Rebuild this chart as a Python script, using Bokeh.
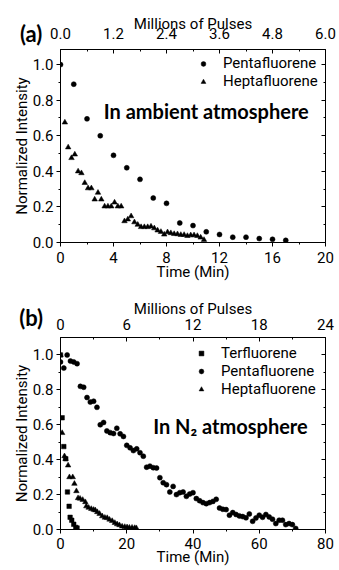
from bokeh.plotting import figure
from bokeh.models import (Range1d, LinearAxis, FixedTicker, Legend, LegendItem,
                          CustomJSTickFormatter, Label)
from bokeh.core.properties import value
from bokeh.layouts import column
from bokeh.embed import file_html
from bokeh.resources import INLINE

# ---------------- Data: panel (a) ambient atmosphere ----------------
a_penta_t = [0, 1, 2, 3, 4, 5, 6, 7, 8, 9, 10, 11, 12, 13, 14, 15, 16, 17]
a_penta_i = [1.0, 0.89, 0.695, 0.60, 0.49, 0.42, 0.355, 0.25, 0.22, 0.11, 0.095, 0.06,
             0.045, 0.03, 0.03, 0.022, 0.018, 0.012]
a_hepta_t = [0.33, 0.58, 0.83, 1.08, 1.33, 1.58, 1.83, 2.08, 2.33, 2.58, 2.83, 3.08, 3.33,
             3.58, 3.83, 4.08, 4.33, 4.58, 4.83, 5.08, 5.33, 5.58, 5.83, 6.08, 6.33, 6.58,
             6.83, 7.08, 7.33, 7.58, 7.83, 8.08, 8.33, 8.58, 8.83, 9.08, 9.33, 9.58, 9.83,
             10.08, 10.33, 10.58, 10.83]
a_hepta_i = [0.675, 0.535, 0.475, 0.495, 0.40, 0.39, 0.335, 0.305, 0.305, 0.242, 0.28,
             0.242, 0.203, 0.203, 0.203, 0.225, 0.203, 0.203, 0.12, 0.13, 0.148, 0.114,
             0.10, 0.087, 0.087, 0.087, 0.09, 0.08, 0.068, 0.06, 0.045, 0.058, 0.053,
             0.048, 0.047, 0.043, 0.043, 0.037, 0.041, 0.041, 0.037, 0.028, 0.015]

# ---------------- Data: panel (b) N2 atmosphere ----------------
b_ter_t = [0, 0.5, 1.0, 1.6, 2.1, 2.6, 2.9, 3.4, 4.0, 4.6, 5.0]
b_ter_i = [1.0, 0.64, 0.475, 0.405, 0.215, 0.133, 0.07, 0.053, 0.03, 0.012, 0.008]
b_penta_t = list(range(72))
b_penta_i = [0.96, 0.925, 1.0, 0.965, 0.96, 0.95, 0.82, 0.815, 0.756, 0.73, 0.735, 0.70,
             0.60, 0.613, 0.565, 0.555, 0.55, 0.58, 0.548, 0.533, 0.482, 0.468, 0.452,
             0.462, 0.44, 0.42, 0.357, 0.363, 0.354, 0.352, 0.297, 0.268, 0.257, 0.215,
             0.247, 0.20, 0.211, 0.215, 0.19, 0.203, 0.211, 0.177, 0.165, 0.154, 0.148,
             0.154, 0.161, 0.173, 0.123, 0.116, 0.114, 0.082, 0.097, 0.086, 0.078, 0.074,
             0.067, 0.089, 0.047, 0.066, 0.082, 0.07, 0.086, 0.072, 0.059, 0.034, 0.053,
             0.053, 0.028, 0.034, 0.028, 0.006]
b_hepta_t = [0, 0.5, 1.2, 1.5, 2.3, 2.7, 3.7, 4.2, 4.8, 5.3, 5.9, 6.7, 7.5, 7.8, 8.5, 9.3,
             10.0, 10.5, 11.1, 11.8, 12.6, 13.4, 14.1, 14.8, 15.6, 16.4, 17.1, 17.8, 18.6,
             19.4, 20.1, 20.8, 21.6, 22.4, 22.9]
b_hepta_i = [1.0, 0.553, 0.42, 0.405, 0.367, 0.30, 0.30, 0.262, 0.22, 0.18, 0.177, 0.17,
             0.157, 0.133, 0.125, 0.118, 0.113, 0.11, 0.10, 0.09, 0.076, 0.068, 0.066,
             0.057, 0.049, 0.038, 0.03, 0.025, 0.017, 0.015, 0.013, 0.011, 0.011, 0.009,
             0.008]

# ---------------- Axis ticks ----------------
y_ticks = [0.0, 0.2, 0.4, 0.6, 0.8, 1.0]
y_tick_labels = ["0.0", "0.2", "0.4", "0.6", "0.8", "1.0"]
y_minor = [0.1, 0.3, 0.5, 0.7, 0.9]

a_time_ticks = [0, 4, 8, 12, 16, 20]
a_time_labels = ["0", "4", "8", "12", "16", "20"]
a_time_minor = [2, 6, 10, 14, 18]
a_pulse_ticks = [0.0, 1.2, 2.4, 3.6, 4.8, 6.0]
a_pulse_labels = ["0.0", "1.2", "2.4", "3.6", "4.8", "6.0"]
a_pulse_minor = [0.6, 1.8, 3.0, 4.2, 5.4]

b_time_ticks = [0, 20, 40, 60, 80]
b_time_labels = ["0", "20", "40", "60", "80"]
b_time_minor = [10, 30, 50, 70]
b_pulse_ticks = [0, 6, 12, 18, 24]
b_pulse_labels = ["0", "6", "12", "18", "24"]
b_pulse_minor = [3, 9, 15, 21]

FONT = "Roboto"
BOLD_FONT = "Lato"
FS = "15px"


def style_axis(ax, ticks, labels, minor, tick_in, label_standoff, show_labels=True):
    ax.ticker = FixedTicker(ticks=ticks, minor_ticks=minor)
    ax.major_label_overrides = {t: l for t, l in zip(ticks, labels)}
    ax.axis_line_color = "black"
    ax.axis_line_width = 1
    ax.major_tick_line_color = "black"
    ax.minor_tick_line_color = "black"
    if tick_in:
        ax.major_tick_in, ax.major_tick_out = 4, 0
        ax.minor_tick_in, ax.minor_tick_out = 2, 0
    else:
        ax.major_tick_in, ax.major_tick_out = 0, 4
        ax.minor_tick_in, ax.minor_tick_out = 0, 2
    ax.major_label_text_font = FONT
    ax.major_label_text_font_size = FS
    ax.major_label_text_color = "black"
    ax.major_label_standoff = label_standoff
    ax.axis_label_text_font = FONT
    ax.axis_label_text_font_size = FS
    ax.axis_label_text_font_style = "normal"
    ax.axis_label_text_color = "black"
    if not show_labels:
        ax.formatter = CustomJSTickFormatter(code="return ''")
        ax.major_label_overrides = {}


def panel(height, top, bottom, xmax, ymax, pmax,
          t_ticks, t_labels, t_minor, p_ticks, p_labels, p_minor,
          series, legend_xy, legend_row, letter, letter_anchor, letter_off,
          note, note_xy, top_standoff, top_label_standoff, bottom_standoff,
          bottom_label_standoff):
    p = figure(width=339, height=height, output_backend="svg", toolbar_location=None,
               x_range=Range1d(0, xmax), y_range=Range1d(0, ymax),
               min_border_left=60, min_border_right=14,
               min_border_top=top, min_border_bottom=bottom,
               x_axis_location=None, y_axis_location=None)
    p.xgrid.visible = False
    p.ygrid.visible = False
    p.outline_line_color = "black"
    p.background_fill_color = "white"
    p.border_fill_color = "white"

    left = LinearAxis(axis_label="Normalized Intensity", axis_label_standoff=-1)
    style_axis(left, y_ticks, y_tick_labels, y_minor, False, 3)
    p.add_layout(left, "left")
    right = LinearAxis()
    style_axis(right, y_ticks, y_tick_labels, y_minor, True, 3, show_labels=False)
    p.add_layout(right, "right")

    bottom_ax = LinearAxis(axis_label="Time (Min)", axis_label_standoff=bottom_label_standoff)
    style_axis(bottom_ax, t_ticks, t_labels, t_minor, False, bottom_standoff)
    p.add_layout(bottom_ax, "below")

    p.extra_x_ranges = {"pulses": Range1d(0, pmax)}
    top_ax = LinearAxis(x_range_name="pulses", axis_label="Millions of Pulses",
                        axis_label_standoff=top_label_standoff)
    style_axis(top_ax, p_ticks, p_labels, p_minor, True, top_standoff)
    p.add_layout(top_ax, "above")

    items = []
    for name, xs, ys, marker, size in series:
        r = p.scatter(xs, ys, marker=marker, size=size, fill_color="black",
                      line_color="black", line_width=0.5)
        items.append(LegendItem(label=name, renderers=[r]))

    leg = Legend(items=items, location=legend_xy, padding=0, margin=0, spacing=0,
                 glyph_width=12, glyph_height=legend_row, label_height=legend_row,
                 label_standoff=14, label_text_font=FONT, label_text_font_size=FS,
                 label_text_color="black", label_text_baseline="middle",
                 background_fill_alpha=0, border_line_color=None)
    p.add_layout(leg)

    # panel letter: anchored at a point just inside the frame, shifted in pixels
    p.text(x=[letter_anchor[0]], y=[letter_anchor[1]], text=[letter],
           x_offset=letter_off[0], y_offset=letter_off[1], level="overlay",
           text_font=value(BOLD_FONT), text_font_style="bold",
           text_font_size=value("22px"), text_align="center",
           text_baseline="middle", text_color="black")

    p.add_layout(Label(x=note_xy[0], y=note_xy[1], text=note, text_font=BOLD_FONT,
                       text_font_style="bold", text_font_size="20px", text_align="center",
                       text_baseline="middle", text_color="black"))
    return p


pa = panel(285, 49, 43, 20, 1.085, 6.0,
           a_time_ticks, a_time_labels, a_time_minor,
           a_pulse_ticks, a_pulse_labels, a_pulse_minor,
           [("Pentafluorene", a_penta_t, a_penta_i, "circle", 5),
            ("Heptafluorene", a_hepta_t, a_hepta_i, "triangle", 5.5)],
           (137, 152), 17, "(a)", (0.5, 1.05), (-36.0, -22.2),
           "In ambient atmosphere", (11.0, 0.738), 11, -8, 5, -3)

pb = panel(285, 52, 41, 80, 1.1, 24,
           b_time_ticks, b_time_labels, b_time_minor,
           b_pulse_ticks, b_pulse_labels, b_pulse_minor,
           [("Terfluorene", b_ter_t, b_ter_i, "square", 4.5),
            ("Pentafluorene", b_penta_t, b_penta_i, "circle", 5),
            ("Heptafluorene", b_hepta_t, b_hepta_i, "triangle", 5.5)],
           (135, 131), 18, "(b)", (2.0, 1.05), (-36.0, -28.7),
           "In N\u2082 atmosphere", (51.3, 0.595), 8, -2, 4, -4)

layout = column(pa, pb, spacing=0)
open("out.html", "w").write(file_html(layout, INLINE))
